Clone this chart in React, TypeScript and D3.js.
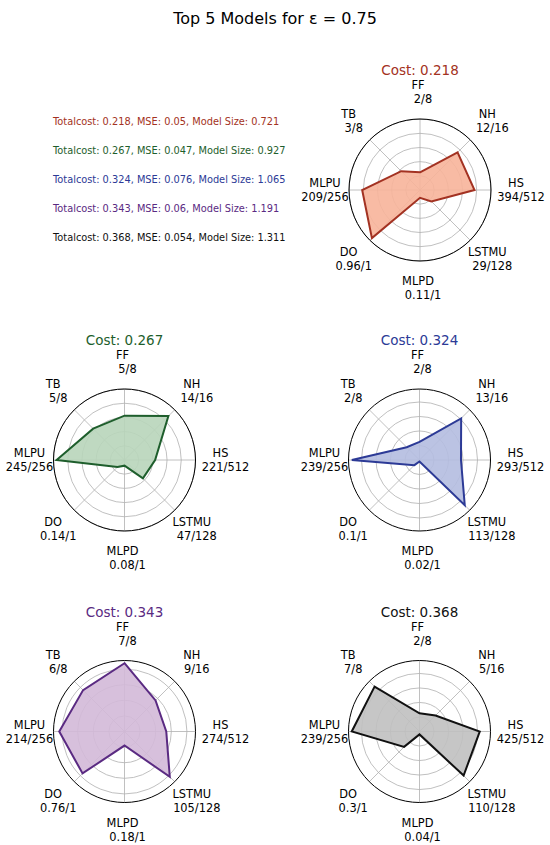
import * as d3 from 'd3';

const AXES = ['FF', 'NH', 'HS', 'LSTMU', 'MLPD', 'DO', 'MLPU', 'TB'];
const AXIS_MAX = [8, 16, 512, 128, 1, 1, 256, 8];

const COSTS = [0.218, 0.267, 0.324, 0.343, 0.368];
const MSE = [0.05, 0.047, 0.076, 0.06, 0.054];
const MODEL_SIZE = [0.721, 0.927, 1.065, 1.191, 1.311];

const MODEL_1 = [2, 12, 394, 29, 0.11, 0.96, 209, 3];
const MODEL_2 = [5, 14, 221, 47, 0.08, 0.14, 245, 5];
const MODEL_3 = [2, 13, 293, 113, 0.02, 0.1, 239, 2];
const MODEL_4 = [7, 9, 274, 105, 0.18, 0.76, 214, 6];
const MODEL_5 = [2, 5, 425, 110, 0.04, 0.3, 239, 7];
const MODELS = [MODEL_1, MODEL_2, MODEL_3, MODEL_4, MODEL_5];

const EDGE = ['#a33222', '#1e5e2c', '#2c3a96', '#5a2a82', '#111111'];
const FILL = ['#f7b49a', '#b8d5ba', '#b4bce0', '#d3b9d8', '#c0c0c0'];

// panel centres (top-right, mid-left, mid-right, bottom-left, bottom-right)
const CENTERS: [number, number][] = [
  [420, 190],
  [124.5, 460],
  [419.5, 460],
  [124.5, 731.5],
  [419.5, 731.5],
];

const W = 550;
const H = 845;
const R = 71;
const LABEL_R = 98;
const FONT = 'DejaVu Sans, sans-serif';

function Radar({ idx }: { idx: number }) {
  const [cx, cy] = CENTERS[idx];
  const raw = MODELS[idx];
  const norm = raw.map((v, i) => v / AXIS_MAX[i]);
  // matplotlib-style autoscale: 0 .. max + 5% margin
  const [lo, hi] = d3.extent(norm) as [number, number];
  const rMax = hi + 0.05 * (hi - lo);
  const r = d3.scaleLinear().domain([0, rMax]).range([0, R]);
  const angle = d3.scaleLinear().domain([0, AXES.length]).range([0, 2 * Math.PI]);
  const rings = r.ticks(5).filter(t => t > 0 && t < rMax);

  const line = d3.lineRadial<number>()
    .angle((_, i) => angle(i))
    .radius(d => r(d))
    .curve(d3.curveLinearClosed);

  const path = line(norm) || '';

  return (
    <g transform={`translate(${cx},${cy})`}>
      {rings.map(t => (
        <circle key={t} r={r(t)} fill="none" stroke="#b0b0b0" strokeWidth={0.8} />
      ))}
      {AXES.map((_, i) => {
        const a = angle(i);
        return (
          <line key={i} x1={0} y1={0} x2={R * Math.sin(a)} y2={-R * Math.cos(a)}
            stroke="#b0b0b0" strokeWidth={0.8} />
        );
      })}
      <path d={path} fill={FILL[idx]} fillOpacity={0.9} stroke="none" />
      <path d={path} fill="none" stroke={EDGE[idx]} strokeWidth={2} strokeLinejoin="miter" />
      <circle r={R} fill="none" stroke="#000" strokeWidth={1} />
      {AXES.map((name, i) => {
        const a = angle(i);
        const lx = LABEL_R * Math.sin(a);
        const ly = -LABEL_R * Math.cos(a);
        const nameDx = name === 'MLPU' ? 3 : -2;
        return (
          <g key={name} fontSize={11.4} fontFamily={FONT} fill="#000" textAnchor="middle">
            <text x={lx + nameDx} y={ly - 7} dominantBaseline="central">{name}</text>
            <text x={lx + 3} y={ly + 7} dominantBaseline="central">{`${raw[i]}/${AXIS_MAX[i]}`}</text>
          </g>
        );
      })}
      <text x={0} y={-120} textAnchor="middle" dominantBaseline="central"
        fontSize={13.5} fontFamily={FONT} fill={EDGE[idx]}>
        {`Cost: ${COSTS[idx]}`}
      </text>
    </g>
  );
}

export default function App() {
  return (
    <svg width={W} height={H} style={{ position: 'absolute', left: 0, top: 0, background: '#fff' }}>
      <rect width={W} height={H} fill="#fff" />
      <text x={275} y={18} textAnchor="middle" dominantBaseline="central"
        fontSize={16} fontFamily={FONT} fill="#000">
        Top 5 Models for ε = 0.75
      </text>
      {COSTS.map((c, i) => (
        <text key={i} x={53} y={121.5 + i * 29} dominantBaseline="central"
          fontSize={9.8} fontFamily={FONT} fill={EDGE[i]}>
          {`Totalcost: ${c}, MSE: ${MSE[i]}, Model Size: ${MODEL_SIZE[i]}`}
        </text>
      ))}
      {MODELS.map((_, i) => <Radar key={i} idx={i} />)}
    </svg>
  );
}
